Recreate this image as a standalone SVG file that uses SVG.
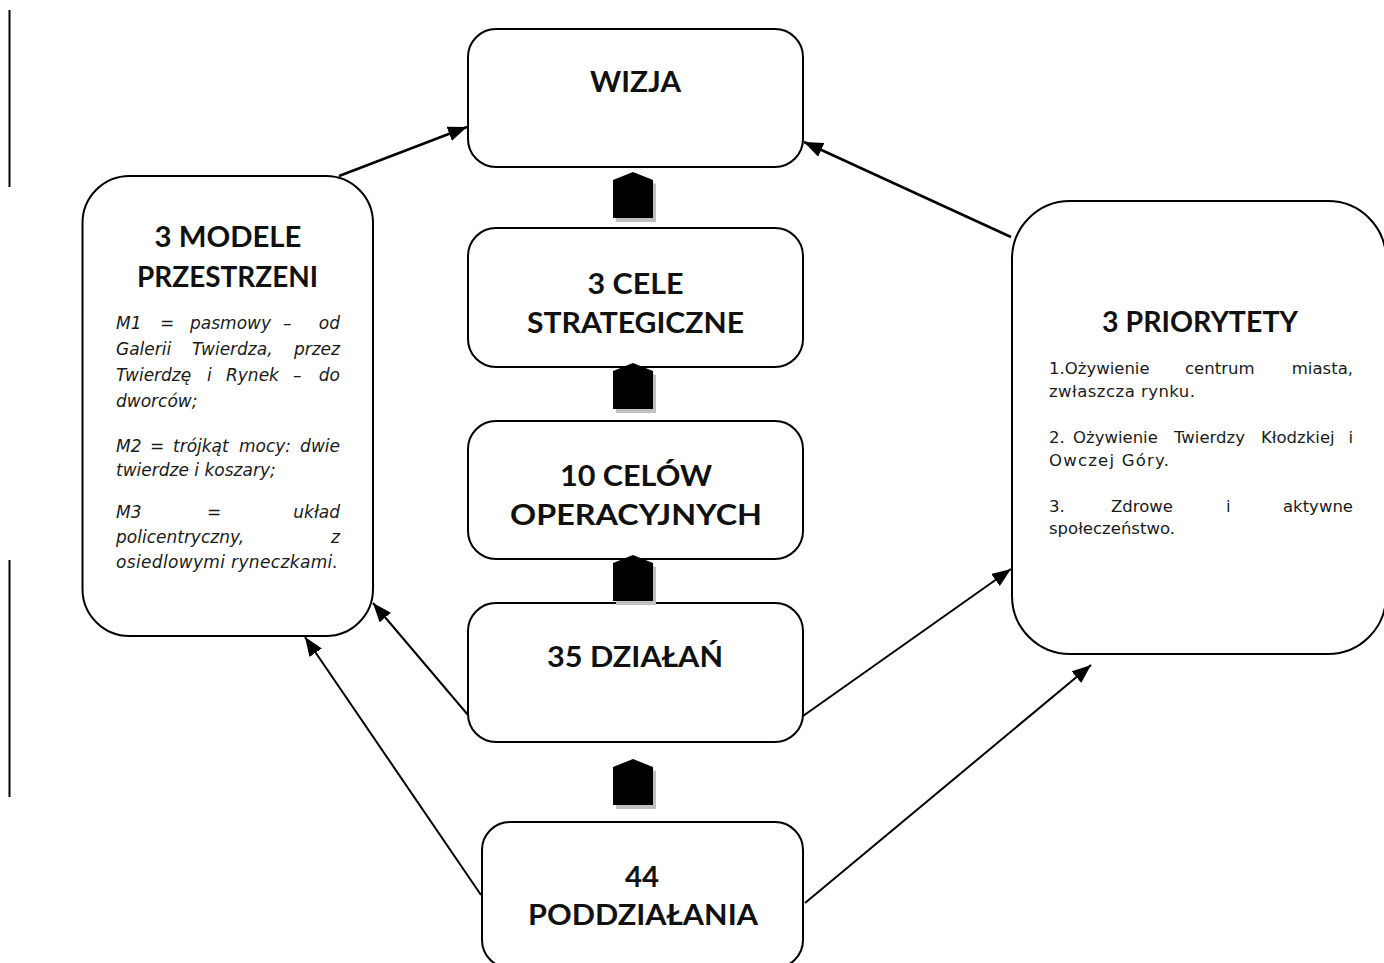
<svg xmlns="http://www.w3.org/2000/svg" width="1384" height="963" viewBox="0 0 1384 963">
<defs>
<style>
.box{fill:#fff;stroke:#000;stroke-width:2}
.ttl{font-family:Lato,"DejaVu Sans",sans-serif;font-weight:bold;font-size:29px;fill:#111;text-anchor:middle}
.it{font-family:"DejaVu Sans",sans-serif;font-style:oblique;font-size:17px;fill:#1a1a1a}
.rg{font-family:"DejaVu Sans",sans-serif;font-size:16.5px;fill:#1a1a1a}
.end{text-anchor:end}
.con{stroke:#000;stroke-width:2.5;fill:none;marker-end:url(#ah)}
.thin{stroke-width:2}
.blk{fill:#000}
.sh{fill:#c0c0c0}
.edge{stroke:#000;stroke-width:2}
</style>
<marker id="ah" markerUnits="userSpaceOnUse" markerWidth="20" markerHeight="16" refX="19" refY="7.5" orient="auto">
<path d="M0,0 L19,7.5 L0,15 z" fill="#000"/>
</marker>
<path id="blockshape" d="M0,8 L20,0 L40,8 L40,46 L0,46 z"/>
</defs>

<line class="edge" x1="9.5" y1="10" x2="9.5" y2="187"/>
<line class="edge" x1="9.5" y1="560" x2="9.5" y2="797"/>

<g id="node-modele">
<rect class="box" x="82.5" y="176" width="290.5" height="460" rx="47"/>
<text class="ttl" x="228" y="247" textLength="147" lengthAdjust="spacingAndGlyphs">3 MODELE</text>
<text class="ttl" x="227.5" y="287" textLength="181" lengthAdjust="spacingAndGlyphs">PRZESTRZENI</text>
<text class="it" y="329"><tspan x="116">M1</tspan><tspan x="160">=</tspan><tspan x="190">pasmowy</tspan><tspan x="283">–</tspan></text>
<text class="it end" x="340" y="329">od</text>
<text class="it" y="355"><tspan x="116">Galerii</tspan><tspan x="192">Twierdza,</tspan></text>
<text class="it end" x="340" y="355">przez</text>
<text class="it" y="381"><tspan x="116">Twierdzę</tspan><tspan x="207">i</tspan><tspan x="226">Rynek</tspan><tspan x="293">–</tspan></text>
<text class="it end" x="340" y="381">do</text>
<text class="it" x="116" y="407">dworców;</text>
<text class="it" y="452"><tspan x="116">M2</tspan><tspan x="150">=</tspan><tspan x="173">trójkąt</tspan><tspan x="239">mocy:</tspan></text>
<text class="it end" x="340" y="452">dwie</text>
<text class="it" x="116" y="476">twierdze i koszary;</text>
<text class="it" y="518"><tspan x="116">M3</tspan><tspan x="207">=</tspan></text>
<text class="it end" x="340" y="518">układ</text>
<text class="it" x="116" y="543">policentryczny,</text>
<text class="it end" x="340" y="543">z</text>
<text class="it" x="116" y="568" textLength="222" lengthAdjust="spacing">osiedlowymi ryneczkami.</text>
</g>

<g id="node-priorytety">
<rect class="box" x="1012" y="201" width="374" height="453" rx="58"/>
<text class="ttl" x="1200" y="332" textLength="196" lengthAdjust="spacingAndGlyphs">3 PRIORYTETY</text>
<text class="rg" y="374"><tspan x="1049">1.Ożywienie</tspan><tspan x="1185">centrum</tspan></text>
<text class="rg end" x="1353" y="374">miasta,</text>
<text class="rg" x="1049" y="397" textLength="146" lengthAdjust="spacing">zwłaszcza rynku.</text>
<text class="rg" y="443"><tspan x="1049">2.</tspan><tspan x="1073">Ożywienie</tspan><tspan x="1174">Twierdzy</tspan><tspan x="1261">Kłodzkiej</tspan></text>
<text class="rg end" x="1353" y="443">i</text>
<text class="rg" x="1049" y="466" textLength="120" lengthAdjust="spacing">Owczej Góry.</text>
<text class="rg" y="512"><tspan x="1049">3.</tspan><tspan x="1111">Zdrowe</tspan><tspan x="1226">i</tspan></text>
<text class="rg end" x="1353" y="512">aktywne</text>
<text class="rg" x="1049" y="534">społeczeństwo.</text>
</g>

<g id="node-wizja">
<rect class="box" x="468" y="29" width="335" height="138" rx="28"/>
<text class="ttl" x="635.5" y="92" textLength="91" lengthAdjust="spacingAndGlyphs">WIZJA</text>
</g>

<g id="node-cele">
<rect class="box" x="468" y="228" width="335" height="139" rx="28"/>
<text class="ttl" x="635.5" y="294" textLength="96" lengthAdjust="spacingAndGlyphs">3 CELE</text>
<text class="ttl" x="635.5" y="333" textLength="217" lengthAdjust="spacingAndGlyphs">STRATEGICZNE</text>
</g>

<g id="node-operacyjne">
<rect class="box" x="468" y="421" width="335" height="138" rx="28"/>
<text class="ttl" x="636" y="486" textLength="152" lengthAdjust="spacingAndGlyphs">10 CELÓW</text>
<text class="ttl" x="636" y="525" textLength="252" lengthAdjust="spacingAndGlyphs">OPERACYJNYCH</text>
</g>

<g id="node-dzialania">
<rect class="box" x="468" y="603" width="335" height="139" rx="28"/>
<text class="ttl" x="635" y="667" textLength="176" lengthAdjust="spacingAndGlyphs">35 DZIAŁAŃ</text>
</g>

<g id="node-poddzialania">
<rect class="box" x="482" y="822" width="321" height="146" rx="28"/>
<text class="ttl" x="642" y="887" textLength="34" lengthAdjust="spacingAndGlyphs">44</text>
<text class="ttl" x="643" y="925" textLength="230" lengthAdjust="spacingAndGlyphs">PODDZIAŁANIA</text>
</g>

<g id="connectors">
<line class="con" x1="339" y1="176" x2="467" y2="127"/>
<line class="con" x1="1011" y1="237" x2="804" y2="142"/>
<line class="con thin" x1="468" y1="715" x2="373" y2="603"/>
<line class="con thin" x1="481" y1="895" x2="305" y2="637"/>
<line class="con thin" x1="803" y1="716" x2="1011" y2="569"/>
<line class="con thin" x1="805" y1="903" x2="1091" y2="665"/>
<use href="#blockshape" class="sh" x="616" y="176"/>
<use href="#blockshape" class="blk" x="613" y="172"/>
<use href="#blockshape" class="sh" x="616" y="367"/>
<use href="#blockshape" class="blk" x="613" y="363"/>
<use href="#blockshape" class="sh" x="616" y="559"/>
<use href="#blockshape" class="blk" x="613" y="555"/>
<use href="#blockshape" class="sh" x="616" y="763"/>
<use href="#blockshape" class="blk" x="613" y="759"/>
</g>
</svg>
